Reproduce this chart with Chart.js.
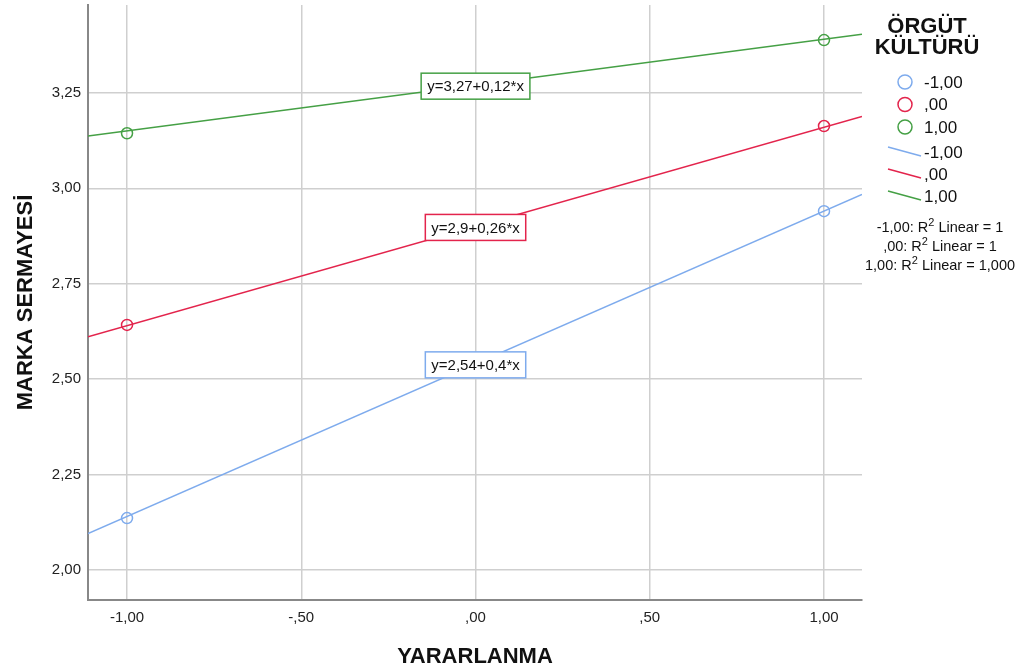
<!DOCTYPE html>
<html>
<head>
<meta charset="utf-8">
<script src="https://cdn.jsdelivr.net/npm/chart.js@4"></script>
<style>
  html, body { margin: 0; padding: 0; background: #fff; }
  #wrap { width: 1019px; height: 671px; position: relative; }
</style>
</head>
<body>
<div id="wrap"><canvas id="chart"></canvas></div>
<script>
// groups (ÖRGÜT KÜLTÜRÜ)
var groups = ['-1,00', ',00', '1,00'];
var groupColors = ['#7eabed', '#e3244c', '#45a045'];
var xValues = [-1, 1];
// observed means per group
var blueVals = [2.136, 2.94];
var redVals = [2.642, 3.163];
var greenVals = [3.144, 3.388];
// fit lines y = a + b*x
var intercepts = [2.54, 2.9, 3.27];
var slopes = [0.4, 0.26, 0.12];
var fitLabels = ['y=2,54+0,4*x', 'y=2,9+0,26*x', 'y=3,27+0,12*x'];
var r2Labels = ['-1,00: R', ',00: R', '1,00: R'];
var r2Tails = [' Linear = 1', ' Linear = 1', ' Linear = 1,000'];
var yTicks = [2.0, 2.25, 2.5, 2.75, 3.0, 3.25];
var xTicks = [-1, -0.5, 0, 0.5, 1];

var xMin = -1.112, xMax = 1.109, yMin = 1.9215, yMax = 3.48;
var FONT = 'Arial, "Liberation Sans", sans-serif';

function fmt(v) {
  var s = Math.abs(v).toFixed(2).replace('.', ',');
  if (s.charAt(0) === '0') s = s.substring(1);
  return (v < 0 ? '-' : '') + s;
}

var allVals = [blueVals, redVals, greenVals];
var datasets = [];
for (var i = 0; i < 3; i++) {
  datasets.push({
    label: groups[i],
    data: xValues.map(function (x, j) { return { x: x, y: allVals[i][j] }; }),
    showLine: false,
    pointRadius: 5.5,
    pointBorderWidth: 1.5,
    pointBorderColor: groupColors[i],
    pointBackgroundColor: 'rgba(0,0,0,0)',
    order: 1
  });
}
for (var i = 0; i < 3; i++) {
  datasets.push({
    label: groups[i],
    data: [
      { x: xMin, y: intercepts[i] + slopes[i] * xMin },
      { x: xMax, y: intercepts[i] + slopes[i] * xMax }
    ],
    showLine: true,
    borderColor: groupColors[i],
    borderWidth: 1.5,
    pointRadius: 0,
    order: 2
  });
}

var extras = {
  id: 'extras',
  afterDatasetsDraw: function (chart) {
    var ctx = chart.ctx;
    var xs = chart.scales.x, ys = chart.scales.y;
    ctx.save();
    // equation boxes at x = 0
    ctx.font = '15px ' + FONT;
    ctx.textAlign = 'center';
    ctx.textBaseline = 'middle';
    for (var i = 0; i < 3; i++) {
      var cx = xs.getPixelForValue(0);
      var cy = ys.getPixelForValue(intercepts[i]) + 1;
      var w = ctx.measureText(fitLabels[i]).width + 12;
      var h = 26;
      ctx.fillStyle = '#fff';
      ctx.fillRect(cx - w / 2, cy - h / 2, w, h);
      ctx.strokeStyle = groupColors[i];
      ctx.lineWidth = 1.5;
      ctx.strokeRect(cx - w / 2, cy - h / 2, w, h);
      ctx.fillStyle = '#111';
      ctx.fillText(fitLabels[i], cx, cy + 1);
    }
    // legend
    ctx.fillStyle = '#111';
    ctx.font = 'bold 22px ' + FONT;
    ctx.textAlign = 'center';
    ctx.fillText('ÖRGÜT', 927, 27);
    ctx.fillText('KÜLTÜRÜ', 927, 48);
    ctx.font = '17px ' + FONT;
    ctx.textAlign = 'left';
    for (var i = 0; i < 3; i++) {
      var y = 82 + i * 22.5;
      ctx.beginPath();
      ctx.arc(905, y, 7, 0, Math.PI * 2);
      ctx.strokeStyle = groupColors[i];
      ctx.lineWidth = 1.5;
      ctx.stroke();
      ctx.fillStyle = '#111';
      ctx.fillText(groups[i], 924, y + 1);
    }
    for (var i = 0; i < 3; i++) {
      var y = 152 + i * 22;
      ctx.beginPath();
      ctx.moveTo(888, y - 5);
      ctx.lineTo(921, y + 4);
      ctx.strokeStyle = groupColors[i];
      ctx.lineWidth = 1.5;
      ctx.stroke();
      ctx.fillStyle = '#111';
      ctx.fillText(groups[i], 924, y + 1);
    }
    // R2 notes
    for (var i = 0; i < 3; i++) {
      var y = 228 + i * 19;
      ctx.font = '14.5px ' + FONT;
      var a = ctx.measureText(r2Labels[i]).width;
      var c = ctx.measureText(r2Tails[i]).width;
      ctx.font = '11px ' + FONT;
      var b = ctx.measureText('2').width;
      var x0 = 940 - (a + b + c) / 2;
      ctx.fillStyle = '#111';
      ctx.font = '14.5px ' + FONT;
      ctx.fillText(r2Labels[i], x0, y);
      ctx.font = '11px ' + FONT;
      ctx.fillText('2', x0 + a, y - 5);
      ctx.font = '14.5px ' + FONT;
      ctx.fillText(r2Tails[i], x0 + a + b, y);
    }
    ctx.restore();
  }
};

new Chart(document.getElementById('chart'), {
  type: 'scatter',
  data: { datasets: datasets },
  options: {
    responsive: true,
    maintainAspectRatio: false,
    animation: false,
    layout: { autoPadding: false, padding: { top: 5, right: 157, left: 0, bottom: 0 } },
    plugins: { legend: { display: false }, tooltip: { enabled: false } },
    scales: {
      x: {
        type: 'linear',
        min: xMin, max: xMax,
        afterBuildTicks: function (s) { s.ticks = xTicks.map(function (v) { return { value: v }; }); },
        afterFit: function (s) { s.height = 71; s.paddingLeft = 0; s.paddingRight = 0; },
        ticks: { callback: function (v) { return fmt(v); }, color: '#222', font: { family: FONT, size: 15 }, padding: 9, maxRotation: 0 },
        grid: { color: '#cfcfcf', lineWidth: 1.5, drawTicks: false },
        border: { color: '#888', width: 2 },
        title: { display: true, text: 'YARARLANMA', color: '#111', font: { family: FONT, size: 22, weight: 'bold' }, padding: { top: 0, bottom: 1 } }
      },
      y: {
        min: yMin, max: yMax,
        afterBuildTicks: function (s) { s.ticks = yTicks.map(function (v) { return { value: v }; }); },
        afterFit: function (s) { s.width = 88; s.paddingTop = 0; s.paddingBottom = 0; },
        ticks: { callback: function (v) { return fmt(v); }, color: '#222', font: { family: FONT, size: 15 }, padding: 7 },
        grid: { color: '#cfcfcf', lineWidth: 1.5, drawTicks: false },
        border: { color: '#888', width: 2 },
        title: { display: true, text: 'MARKA SERMAYESİ', color: '#111', font: { family: FONT, size: 22, weight: 'bold' }, padding: { top: 13, bottom: 0 } }
      }
    }
  },
  plugins: [extras]
});
</script>
</body>
</html>
